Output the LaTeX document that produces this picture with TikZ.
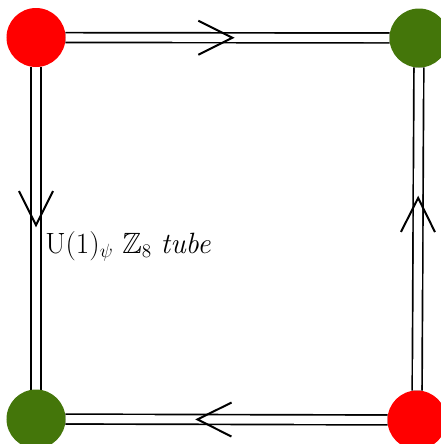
\documentclass[tikz,border=0pt]{standalone}
\usepackage{amssymb}
\usetikzlibrary{decorations.markings}
\definecolor{dotred}{RGB}{255,0,0}
\definecolor{dotgreen}{RGB}{68,118,10}
\begin{document}
\begin{tikzpicture}[x=0.75pt,y=-0.75pt,
  dot/.style={circle,minimum size=44pt,inner sep=0pt,outer sep=0pt},
  tubeline/.style={line width=1.25pt,double=white,double distance=6.1pt},
  chev/.style={postaction={decorate,decoration={markings,
    mark=at position #1 with {\draw[line width=1.5pt,double=none,line join=miter]
      (-34,-17) .. controls (-20,-10) .. (0,0) .. controls (-20,10) .. (-34,17);}}}}
]
\useasboundingbox (0,0) rectangle (441,444);
\node[dot] (tl) at (36,37.5) {};
\node[dot] (tr) at (419,38) {};
\node[dot] (bl) at (36,419) {};
\node[dot] (br) at (417,420) {};
\draw[tubeline,chev=0.515] (tl) -- (tr);
\draw[tubeline,chev=0.49] (tl) -- (bl);
\draw[tubeline,chev=0.596] (br) -- (tr);
\draw[tubeline,chev=0.59] (br) -- (bl);
\fill[dotred] (tl) circle (29.5);
\fill[dotgreen] (tr) circle (29.5);
\fill[dotgreen] (bl) circle (29.5);
\fill[dotred] (br) circle (29.5);
\node[anchor=base west,inner sep=0pt,font=\fontsize{22}{26}\selectfont] (lbl) at (45,253)
  {U(1)$_\psi$ $\mathbb{Z}_8$ \textit{tube}};
\end{tikzpicture}
\end{document}
